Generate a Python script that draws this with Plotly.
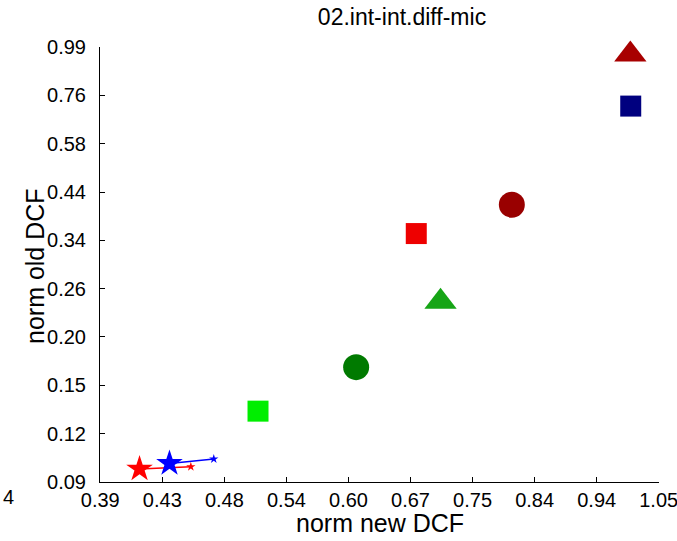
import numpy as np
import plotly.graph_objects as go

# ---- data ----
x_tick_labels = ["0.39", "0.43", "0.48", "0.54", "0.60", "0.67", "0.75", "0.84", "0.94", "1.05"]
y_tick_labels = ["0.09", "0.12", "0.15", "0.20", "0.26", "0.34", "0.44", "0.58", "0.76", "0.99"]

# single-marker systems: new DCF (x), old DCF (y)
tri_x = [0.998, 0.713]
tri_y = [0.950, 0.243]
tri_colors = ["#a80000", "#16a516"]

sq_x = [0.9987, 0.683, 0.516]
sq_y = [0.7148, 0.354, 0.133]
sq_colors = ["#00007f", "#ee0000", "#00ee00"]

circ_x = [0.809, 0.614]
circ_y = [0.415, 0.1695]
circ_colors = ["#990000", "#007a00"]

# star pairs (big star -> small star connected by a line)
red_star_x = [0.4183, 0.4581]
red_star_y = [0.0967, 0.0979]
blue_star_x = [0.4411, 0.4771]
blue_star_y = [0.0997, 0.1022]

x_lo, x_hi = 0.39, 1.05
y_lo, y_hi = 0.09, 0.99

fig = go.Figure()

fig.add_trace(go.Scatter(x=tri_x, y=tri_y, mode="markers", cliponaxis=False,
                         marker=dict(symbol="triangle-up", size=28, color=tri_colors, opacity=1, line=dict(width=0))))
fig.add_trace(go.Scatter(x=sq_x, y=sq_y, mode="markers", cliponaxis=False,
                         marker=dict(symbol="square", size=21, color=sq_colors, opacity=1, line=dict(width=0))))
fig.add_trace(go.Scatter(x=circ_x, y=circ_y, mode="markers", cliponaxis=False,
                         marker=dict(symbol="circle", size=26, color=circ_colors, opacity=1, line=dict(width=0))))
fig.add_trace(go.Scatter(x=red_star_x, y=red_star_y, mode="lines+markers", cliponaxis=False,
                         line=dict(color="#ff0000", width=1.5),
                         marker=dict(symbol="star", size=[20, 7], color="#ff0000", opacity=1, line=dict(width=0))))
fig.add_trace(go.Scatter(x=blue_star_x, y=blue_star_y, mode="lines+markers", cliponaxis=False,
                         line=dict(color="#0000ff", width=1.5),
                         marker=dict(symbol="star", size=[20, 7], color="#0000ff", opacity=1, line=dict(width=0))))

# tick positions: evenly spaced in log between the range ends (nudged inward so end labels render)
xtv = list(np.geomspace(x_lo * 1.0005, x_hi / 1.0005, len(x_tick_labels)))
ytv = list(np.geomspace(y_lo * 1.0005, y_hi / 1.0005, len(y_tick_labels)))

font_family = "Liberation Sans, Arial, sans-serif"

L, R, T, B = 100, 659, 47, 482
W, H = 677, 541
pw, ph = R - L, B - T

fig.update_layout(
    width=W, height=H,
    margin=dict(l=L, r=W - R, t=T, b=H - B, autoexpand=False),
    paper_bgcolor="white", plot_bgcolor="white",
    showlegend=False,
    font=dict(family=font_family, color="black"),
    title=dict(text="02.int-int.diff-mic", xref="container", x=402 / W, xanchor="center",
               yref="container", y=1 - 17 / H, yanchor="middle",
               font=dict(size=23, color="black")),
    xaxis=dict(type="log", range=[np.log10(x_lo), np.log10(x_hi)],
               tickvals=xtv, ticktext=x_tick_labels, automargin=False,
               ticks="inside", ticklen=5, tickcolor="black", tickwidth=1,
               showline=True, linecolor="black", linewidth=1, mirror=False,
               showgrid=False, zeroline=False, ticklabelstandoff=0,
               ticklabeloverflow="allow",
               tickfont=dict(size=20, color="black")),
    yaxis=dict(type="log", range=[np.log10(y_lo), np.log10(y_hi)],
               tickvals=ytv, ticktext=y_tick_labels, automargin=False,
               ticks="inside", ticklen=5, tickcolor="black", tickwidth=1,
               showline=True, linecolor="black", linewidth=1, mirror=False,
               showgrid=False, zeroline=False, ticklabelstandoff=9,
               ticklabeloverflow="allow",
               tickfont=dict(size=20, color="black")),
    annotations=[
        dict(text="norm new DCF", xref="paper", yref="paper",
             x=(380 - L) / pw, y=(B - 523) / ph, xanchor="center", yanchor="middle",
             showarrow=False, font=dict(size=25, color="black")),
        dict(text="norm old DCF", xref="paper", yref="paper", textangle=-90,
             x=(35 - L) / pw, y=(B - 266) / ph, xanchor="center", yanchor="middle",
             showarrow=False, font=dict(size=25, color="black")),
        dict(text="4", xref="paper", yref="paper",
             x=(1 - L) / pw, y=(B - 497) / ph,
             xanchor="left", yanchor="middle", showarrow=False,
             font=dict(size=20, color="black")),
    ],
)

fig.write_html("out.html", config={"displayModeBar": False},
               post_script="document.body.style.margin='0px';document.body.style.overflow='hidden';")
